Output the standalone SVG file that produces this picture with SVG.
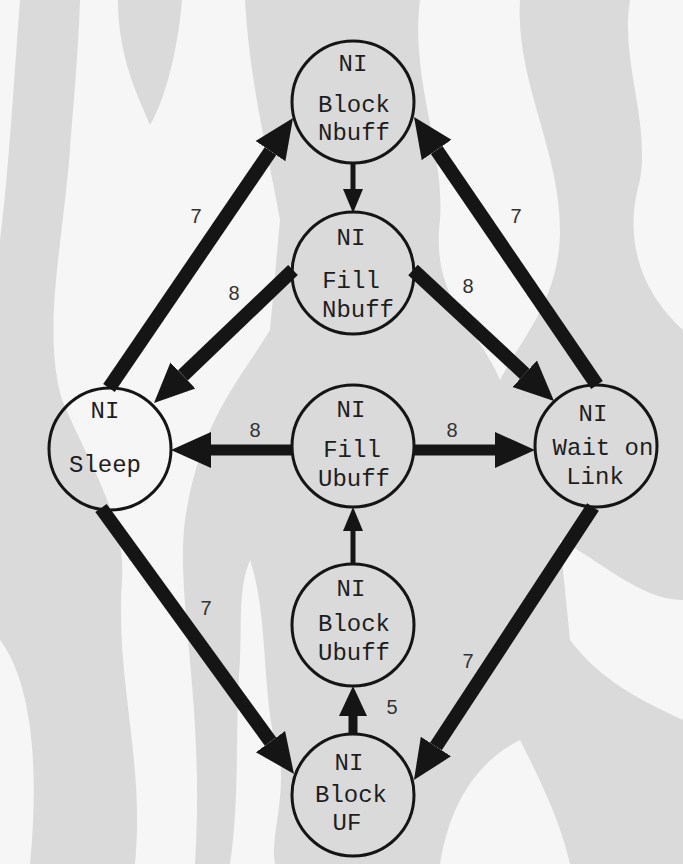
<svg xmlns="http://www.w3.org/2000/svg" width="683" height="864" viewBox="0 0 683 864">
  <style>
    .bg { fill: #dadada; }
    .wave { fill: #f6f6f6; }
    .node circle { fill: none; stroke: #151515; stroke-width: 3; }
    .node text { font-family: "Liberation Mono", "Courier New", monospace; font-size: 24px; fill: #1e1e1e; text-anchor: middle; }
    .edge { stroke: #151515; fill: none; stroke-linecap: butt; }
    .thick { stroke-width: 14; }
    .flat { stroke-width: 11; }
    .mid { stroke-width: 9; }
    .thin { stroke-width: 5; }
    .label { font-family: "Liberation Sans", Arial, sans-serif; font-size: 20px; fill: #333; text-anchor: middle; }
  </style>
  <defs>
    <marker id="ah-lg" markerUnits="userSpaceOnUse" markerWidth="42" markerHeight="38" viewBox="0 -19 42 38" refX="0" refY="0" orient="auto">
      <path d="M0,-18 L40,0 L0,18 Z" fill="#151515"/>
    </marker>
    <marker id="ah-md" markerUnits="userSpaceOnUse" markerWidth="32" markerHeight="30" viewBox="0 -15 32 30" refX="0" refY="0" orient="auto">
      <path d="M0,-14 L30,0 L0,14 Z" fill="#151515"/>
    </marker>
    <marker id="ah-sm" markerUnits="userSpaceOnUse" markerWidth="26" markerHeight="22" viewBox="0 -11 26 22" refX="0" refY="0" orient="auto">
      <path d="M0,-10 L24,0 L0,10 Z" fill="#151515"/>
    </marker>
  </defs>

  <!-- marbled backdrop -->
  <g id="backdrop">
    <rect class="bg" x="0" y="0" width="683" height="864"/>
    <path class="wave" d="M0,0 L20,0 C14,80 8,180 0,240 Z"/>
    <path class="wave" d="M80,0 L118,0 C118,60 140,100 150,125 C165,100 178,50 182,0 L245,0 C250,90 272,170 280,220 L270,330 C240,380 200,420 185,520 C175,600 205,700 195,864 L135,864 C145,760 115,680 122,580 C126,520 92,470 62,400 C42,330 62,250 70,150 C72,120 78,60 80,0 Z"/>
    <path class="wave" d="M420,0 L520,0 C515,80 560,150 560,230 C560,300 520,340 500,380 C480,330 430,300 440,220 C445,150 410,80 420,0 Z"/>
    <path class="wave" d="M630,0 L683,0 L683,330 C650,300 620,250 640,180 C650,120 620,60 630,0 Z"/>
    <path class="wave" d="M560,540 C600,560 640,600 683,600 L683,720 C640,700 600,680 570,640 Z"/>
    <path class="wave" d="M440,864 C450,800 480,760 520,740 C540,780 560,820 570,864 Z"/>
    <path class="wave" d="M0,640 C30,680 40,760 30,864 L0,864 Z"/>
    <path class="wave" d="M250,560 C270,620 260,700 280,760 C285,800 270,840 275,864 L230,864 C240,800 235,720 240,660 C242,620 238,590 250,560 Z"/>
  </g>

  <!-- connectors -->
  <g id="connectors">
    <line class="edge thick" x1="109" y1="388" x2="270.5" y2="151.1" marker-end="url(#ah-lg)"/>
    <line class="edge thick" x1="293" y1="270" x2="182.9" y2="375.4" marker-end="url(#ah-lg)"/>
    <line class="edge thin" x1="353" y1="163" x2="353" y2="189" marker-end="url(#ah-sm)"/>
    <line class="edge thick" x1="413" y1="270" x2="524.7" y2="373.8" marker-end="url(#ah-lg)"/>
    <line class="edge thick" x1="597" y1="385" x2="436.6" y2="150" marker-end="url(#ah-lg)"/>
    <line class="edge flat" x1="292" y1="450" x2="211" y2="450" marker-end="url(#ah-lg)"/>
    <line class="edge flat" x1="414" y1="450" x2="495" y2="450" marker-end="url(#ah-lg)"/>
    <line class="edge thin" x1="353" y1="564" x2="353" y2="531" marker-end="url(#ah-sm)"/>
    <line class="edge mid" x1="353" y1="734" x2="353" y2="716" marker-end="url(#ah-md)"/>
    <line class="edge thick" x1="101" y1="508" x2="270.5" y2="741.6" marker-end="url(#ah-lg)"/>
    <line class="edge thick" x1="593" y1="507" x2="435.9" y2="746.5" marker-end="url(#ah-lg)"/>

    <text class="label" x="196" y="223">7</text>
    <text class="label" x="234" y="300">8</text>
    <text class="label" x="516" y="223">7</text>
    <text class="label" x="468" y="293">8</text>
    <text class="label" x="255" y="437">8</text>
    <text class="label" x="452" y="437">8</text>
    <text class="label" x="206" y="615">7</text>
    <text class="label" x="468" y="668">7</text>
    <text class="label" x="392" y="714">5</text>
  </g>

  <!-- states -->
  <g id="block-nbuff" class="node">
    <circle cx="353" cy="102" r="61"/>
    <text x="353" y="71">NI</text>
    <text x="354" y="112">Block</text>
    <text x="354" y="140">Nbuff</text>
  </g>
  <g id="fill-nbuff" class="node">
    <circle cx="353" cy="273" r="61"/>
    <text x="351" y="245">NI</text>
    <text x="351" y="288">Fill</text>
    <text x="358" y="317">Nbuff</text>
  </g>
  <g id="sleep" class="node">
    <circle cx="110" cy="449" r="61"/>
    <text x="105" y="418">NI</text>
    <text x="105" y="472">Sleep</text>
  </g>
  <g id="fill-ubuff" class="node">
    <circle cx="353" cy="446" r="61"/>
    <text x="351" y="417">NI</text>
    <text x="352" y="457">Fill</text>
    <text x="354" y="486">Ubuff</text>
  </g>
  <g id="wait-on-link" class="node">
    <circle cx="596" cy="446" r="61"/>
    <text x="593" y="421">NI</text>
    <text x="603" y="455">Wait on</text>
    <text x="595" y="484">Link</text>
  </g>
  <g id="block-ubuff" class="node">
    <circle cx="353" cy="625" r="61"/>
    <text x="351" y="596">NI</text>
    <text x="354" y="631">Block</text>
    <text x="354" y="660">Ubuff</text>
  </g>
  <g id="block-uf" class="node">
    <circle cx="353" cy="795" r="61"/>
    <text x="349" y="770">NI</text>
    <text x="351" y="802">Block</text>
    <text x="347" y="830">UF</text>
  </g>
</svg>
